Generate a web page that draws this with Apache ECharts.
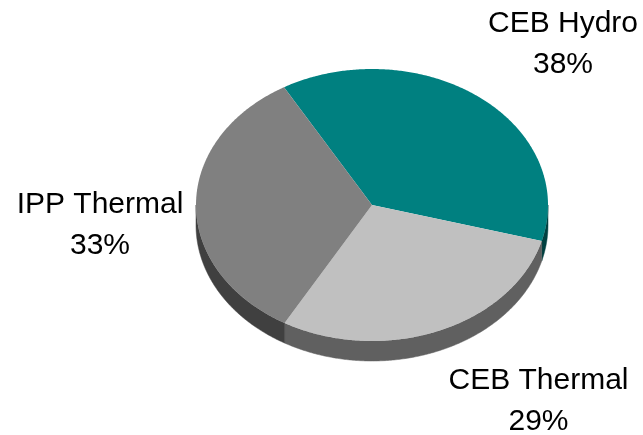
<!DOCTYPE html>
<html>
<head>
<meta charset="utf-8">
<style>html,body{margin:0;padding:0;background:#fff}#c{width:643px;height:435px}</style>
<script src="https://cdn.jsdelivr.net/npm/echarts@6/dist/echarts.min.js"></script>
</head>
<body>
<div id="c"></div>
<script>
const categories = ['CEB Hydro', 'CEB Thermal', 'IPP Thermal'];
const values = [37.6, 29.0, 33.4];

const topColors = ['#008080', '#C0C0C0', '#808080'];
const wallColors = ['#004040', '#606060', '#404040'];
const labelPos = [[563, 44], [538.5, 401.5], [100, 225.5]];
const cx = 372, cy = 205, rx = 176, ry = 136, depth = 20, startDeg = 120;

const total = values.reduce((a, b) => a + b, 0);
function angles(i) {
  let before = 0;
  for (let k = 0; k < i; k++) before += values[k];
  return [startDeg - before / total * 360, startDeg - (before + values[i]) / total * 360];
}
function rim(a, dy) {
  const t = a * Math.PI / 180;
  return [cx + rx * Math.cos(t), cy - ry * Math.sin(t) + dy];
}
function arc(a0, a1, dy) {
  const n = Math.max(2, Math.ceil(Math.abs(a0 - a1) / 0.5));
  const pts = [];
  for (let j = 0; j <= n; j++) pts.push(rim(a0 + (a1 - a0) * j / n, dy));
  return pts;
}
function wallPolys(a0, a1) {
  const polys = [];
  for (let shift = -720; shift <= 360; shift += 360) {
    const hi = Math.min(a0, shift), lo = Math.max(a1, shift - 180);
    if (hi > lo) polys.push(arc(hi, lo, 0).concat(arc(lo, hi, depth)));
  }
  return polys;
}

const chart = echarts.init(document.getElementById('c'), null, { renderer: 'canvas' });
chart.setOption({
  animation: false,
  backgroundColor: '#fff',
  series: [{
    type: 'custom',
    coordinateSystem: 'none',
    data: values.map((v, i) => ({ name: categories[i], value: [v, i] })),
    renderItem: function (params, api) {
      const i = api.value(1);
      const [a0, a1] = angles(i);
      const children = wallPolys(a0, a1).map(points => ({
        type: 'polygon', shape: { points }, z2: 1,
        style: { fill: wallColors[i], stroke: wallColors[i], lineWidth: 0.5 }
      }));
      children.push({
        type: 'polygon', z2: 2,
        shape: { points: [[cx, cy]].concat(arc(a0, a1, 0)) },
        style: { fill: topColors[i] }
      });
      children.push({
        type: 'text', z2: 3, x: labelPos[i][0], y: labelPos[i][1],
        style: {
          text: categories[i] + '\n' + Math.round(api.value(0)) + '%',
          fill: '#000', align: 'center', verticalAlign: 'middle',
          font: '30px "Liberation Sans", Arial, sans-serif', lineHeight: 41
        }
      });
      return { type: 'group', children };
    }
  }]
});
</script>
</body>
</html>
